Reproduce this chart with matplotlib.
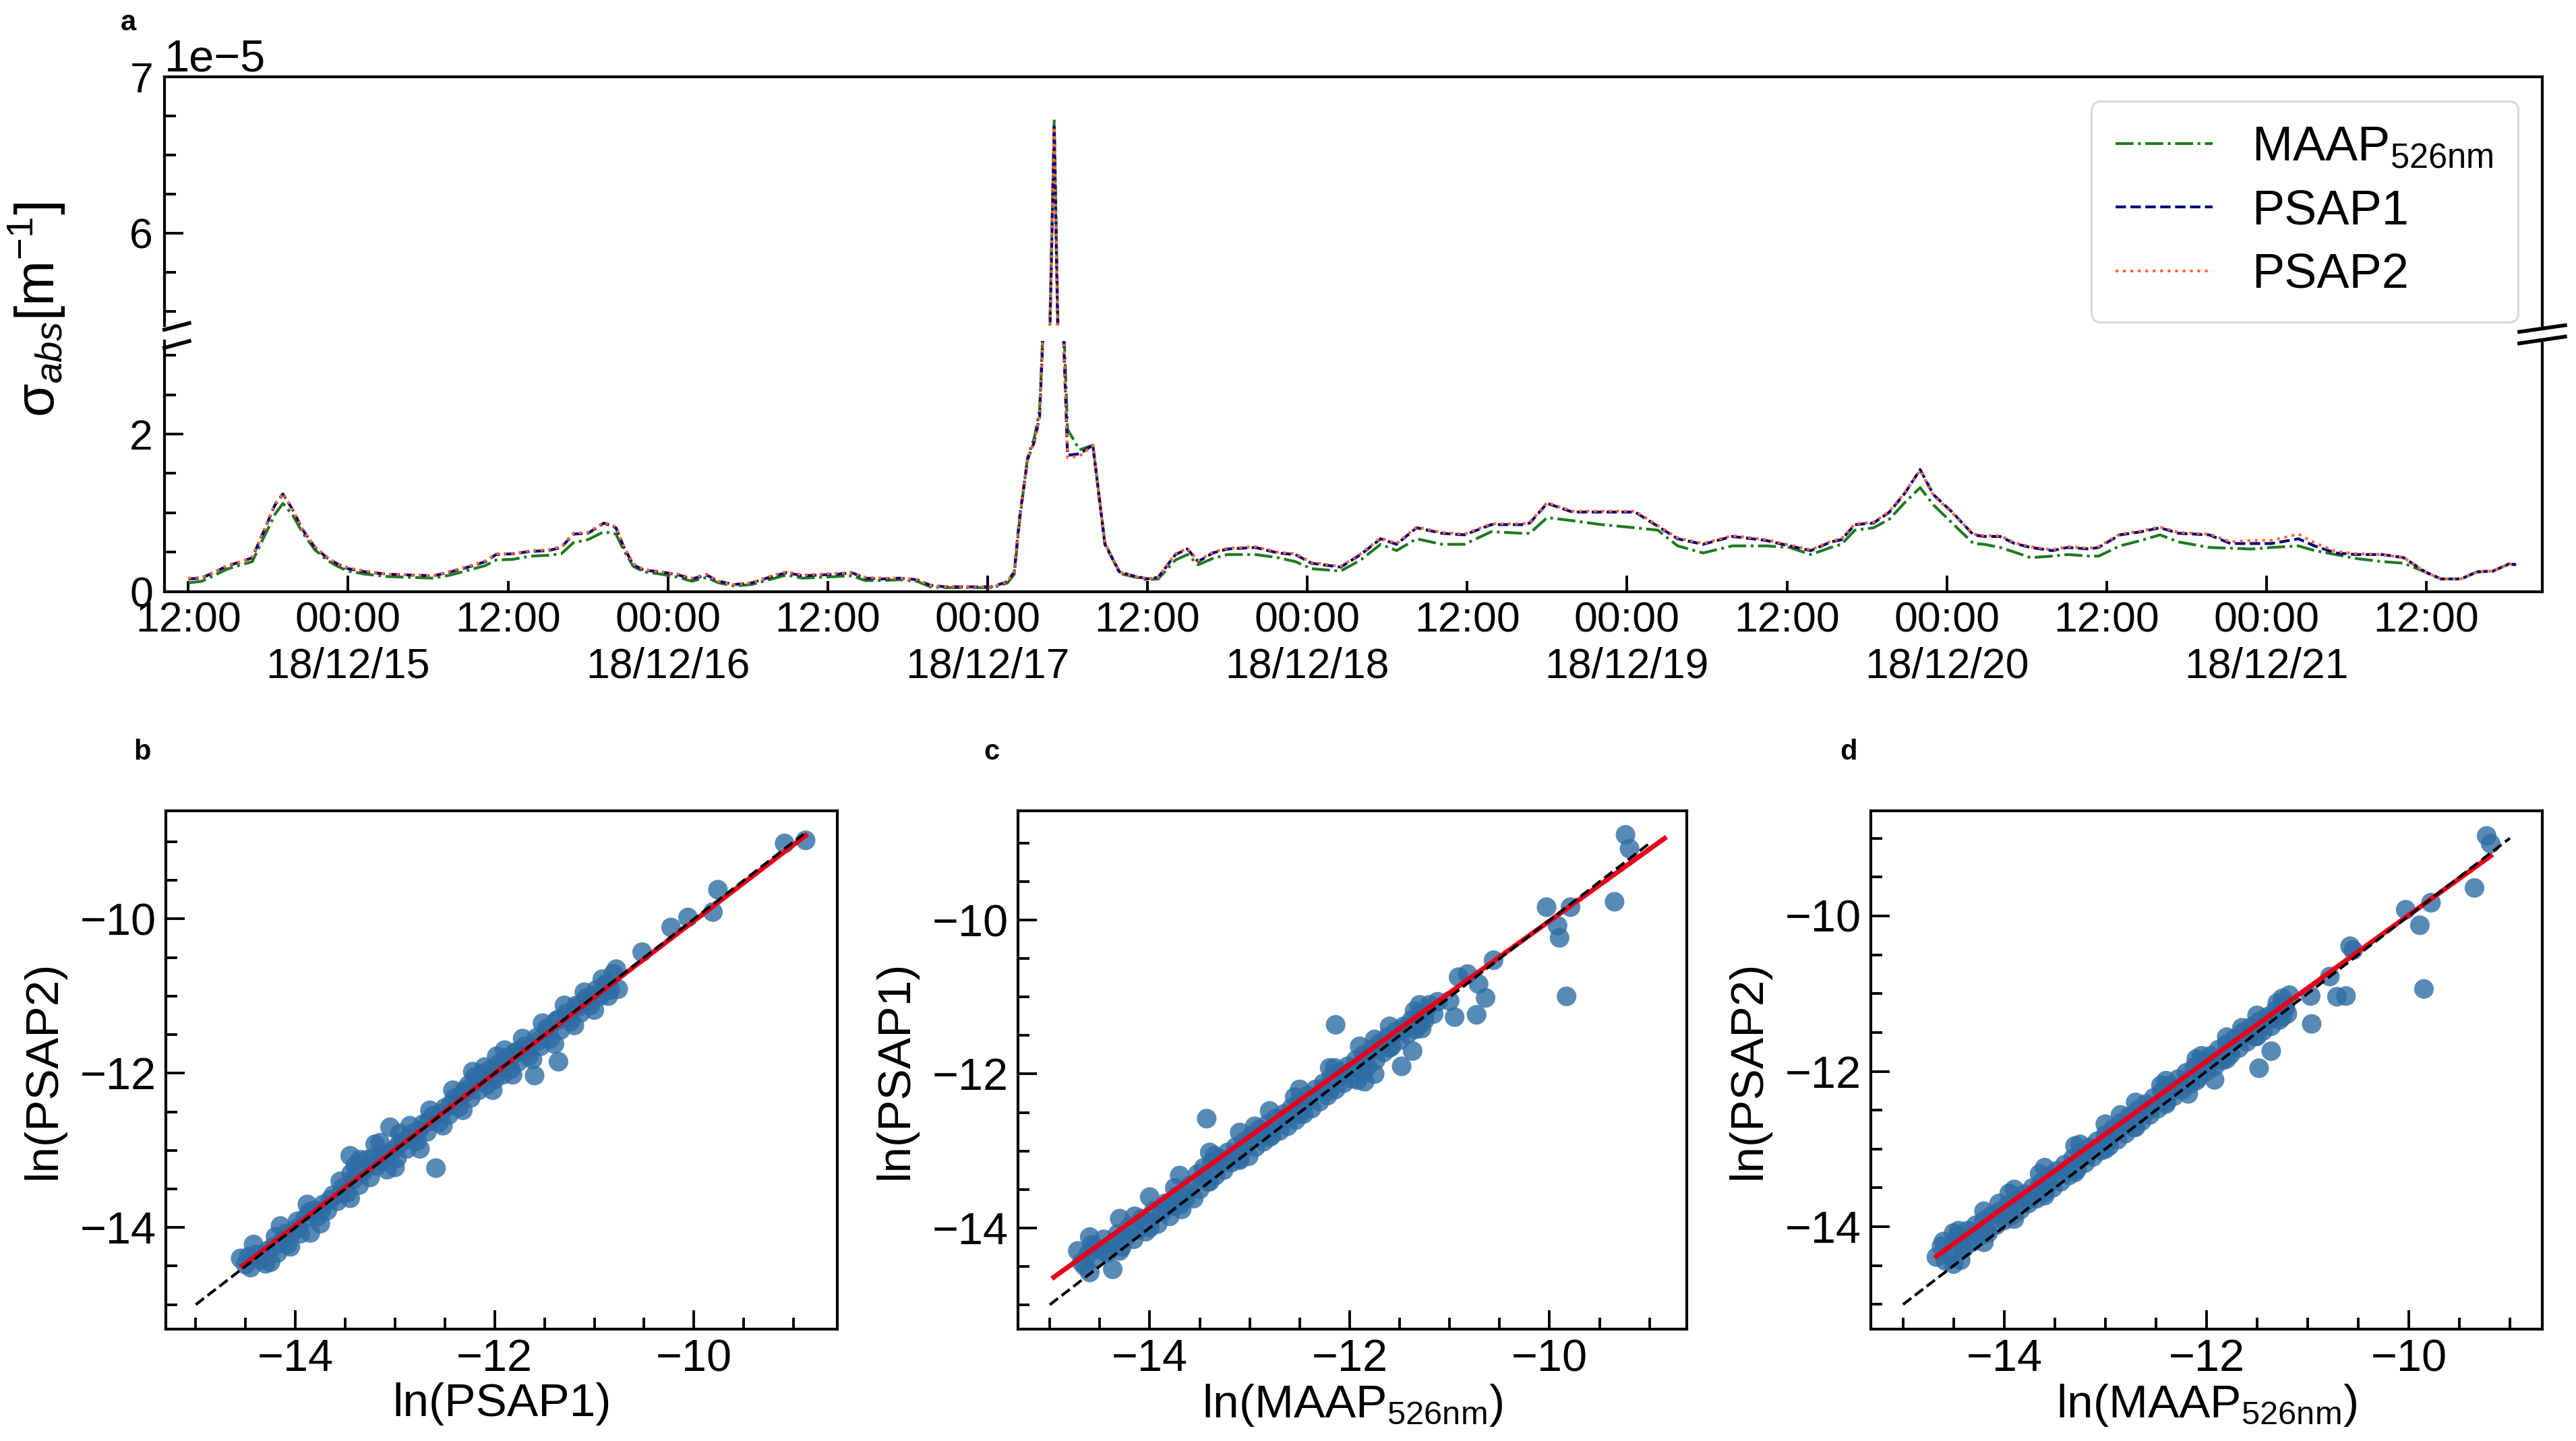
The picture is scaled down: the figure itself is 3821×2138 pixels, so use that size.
import numpy as np
import matplotlib

matplotlib.use("Agg")
import matplotlib.pyplot as plt
import matplotlib.dates as mdates
from matplotlib.lines import Line2D
from matplotlib.ticker import MultipleLocator

# ---------------------------------------------------------------------------
# panel a: absorption coefficient, units of 1e-5 m^-1
# time given as hours after 2018-12-14 12:00
T0 = np.datetime64("2018-12-14T12:00")
hours = [
    0, 1, 2, 3, 4, 4.8, 5.7, 6.5, 7.1, 7.8,
    8.6, 9.5, 10.4, 11.2, 12, 13.3, 15, 16.7, 18.4, 19.7,
    21, 22.3, 23.1, 24.4, 25.7, 27, 28, 28.9, 30, 31.2,
    32.1, 32.7, 33.4, 34.2, 35.5, 36.8, 37.8, 38.9, 39.8, 41,
    42.3, 43.6, 44.9, 46.1, 47.4, 48.7, 49.8, 50.8, 52.1, 53.4,
    54.7, 55.7, 56.8, 58.1, 59.4, 60.4, 61.5, 62.0, 62.4, 63.0,
    63.5, 63.9, 65.0, 66.0, 66.9, 67.9, 68.8, 69.9, 70.9, 72.0,
    72.8, 74.1, 75.0, 75.8, 76.9, 78.0, 80.1, 81.8, 83.1, 84.3,
    86.5, 88.0, 89.5, 90.7, 92.2, 94.1, 95.8, 97.8, 100.1, 100.7,
    102.0, 103.9, 106.1, 108.6, 110.3, 111.8, 113.7, 115.9, 118.4, 120.2,
    121.8, 123.3, 124.1, 125.1, 126.5, 127.7, 128.9, 130.0, 131.0, 132.4,
    134.0, 134.8, 136.0, 137.1, 138.3, 139.9, 141.1, 142.7, 143.4, 145.0,
    146.6, 148.0, 149.4, 151.7, 153.3, 154.9, 156.4, 158.4, 159.6, 161.2,
    162.7, 164.7, 166.3, 167.9, 169.1, 170.6, 171.8, 173.0, 174.2, 174.8,
]
psap1 = [
    0.16, 0.17, 0.25, 0.33, 0.38, 0.43, 0.78, 1.10, 1.24, 1.05,
    0.78, 0.56, 0.43, 0.35, 0.29, 0.25, 0.22, 0.21, 0.20, 0.25,
    0.31, 0.38, 0.47, 0.48, 0.51, 0.52, 0.56, 0.73, 0.74, 0.87,
    0.81, 0.56, 0.34, 0.27, 0.25, 0.21, 0.16, 0.21, 0.13, 0.09,
    0.11, 0.18, 0.24, 0.20, 0.21, 0.22, 0.24, 0.17, 0.16, 0.17,
    0.15, 0.08, 0.06, 0.06, 0.06, 0.06, 0.13, 0.25, 0.94, 1.68,
    1.90, 2.22, 6.68, 1.73, 1.75, 1.86, 0.60, 0.25, 0.20, 0.16,
    0.18, 0.47, 0.54, 0.38, 0.49, 0.54, 0.56, 0.49, 0.47, 0.36,
    0.31, 0.47, 0.67, 0.60, 0.81, 0.74, 0.72, 0.85, 0.85, 0.87,
    1.12, 1.01, 1.01, 1.01, 0.83, 0.67, 0.60, 0.70, 0.65, 0.58,
    0.52, 0.63, 0.66, 0.85, 0.87, 1.01, 1.26, 1.55, 1.23, 1.01,
    0.72, 0.70, 0.70, 0.61, 0.56, 0.52, 0.56, 0.54, 0.56, 0.72,
    0.76, 0.81, 0.74, 0.72, 0.61, 0.61, 0.61, 0.67, 0.58, 0.49,
    0.47, 0.47, 0.43, 0.25, 0.16, 0.16, 0.25, 0.26, 0.35, 0.34,
]
psap2 = [
    0.17, 0.18, 0.25, 0.34, 0.38, 0.44, 0.79, 1.11, 1.25, 1.05,
    0.78, 0.57, 0.44, 0.35, 0.30, 0.26, 0.22, 0.21, 0.20, 0.26,
    0.32, 0.39, 0.48, 0.48, 0.52, 0.53, 0.57, 0.74, 0.75, 0.88,
    0.82, 0.57, 0.35, 0.28, 0.25, 0.22, 0.17, 0.22, 0.13, 0.09,
    0.11, 0.19, 0.25, 0.21, 0.22, 0.23, 0.24, 0.18, 0.17, 0.17,
    0.15, 0.08, 0.06, 0.06, 0.06, 0.06, 0.13, 0.26, 0.95, 1.68,
    1.90, 2.22, 6.68, 1.70, 1.72, 1.86, 0.62, 0.25, 0.20, 0.16,
    0.18, 0.48, 0.55, 0.39, 0.50, 0.55, 0.57, 0.50, 0.48, 0.37,
    0.32, 0.48, 0.68, 0.61, 0.82, 0.75, 0.73, 0.86, 0.86, 0.88,
    1.13, 1.02, 1.02, 1.02, 0.84, 0.68, 0.61, 0.71, 0.66, 0.59,
    0.53, 0.64, 0.67, 0.86, 0.88, 1.02, 1.27, 1.54, 1.22, 1.00,
    0.73, 0.71, 0.71, 0.62, 0.57, 0.53, 0.57, 0.55, 0.57, 0.73,
    0.77, 0.82, 0.75, 0.73, 0.63, 0.65, 0.65, 0.73, 0.62, 0.51,
    0.48, 0.47, 0.43, 0.25, 0.16, 0.16, 0.25, 0.26, 0.35, 0.34,
]
maap = [
    0.11, 0.13, 0.21, 0.29, 0.34, 0.38, 0.70, 0.98, 1.12, 0.98,
    0.74, 0.53, 0.40, 0.32, 0.26, 0.22, 0.19, 0.18, 0.17, 0.21,
    0.27, 0.33, 0.40, 0.41, 0.45, 0.46, 0.48, 0.62, 0.66, 0.76,
    0.73, 0.52, 0.32, 0.25, 0.22, 0.18, 0.13, 0.18, 0.11, 0.07,
    0.09, 0.15, 0.21, 0.17, 0.18, 0.19, 0.20, 0.14, 0.14, 0.15,
    0.13, 0.06, 0.05, 0.05, 0.05, 0.05, 0.11, 0.22, 0.90, 1.70,
    1.95, 2.30, 6.73, 2.06, 1.80, 1.86, 0.62, 0.23, 0.19, 0.15,
    0.16, 0.40, 0.47, 0.34, 0.42, 0.47, 0.47, 0.43, 0.38, 0.29,
    0.26, 0.40, 0.60, 0.52, 0.67, 0.60, 0.60, 0.76, 0.74, 0.74,
    0.94, 0.90, 0.85, 0.81, 0.78, 0.58, 0.49, 0.58, 0.58, 0.56,
    0.47, 0.56, 0.60, 0.78, 0.81, 0.92, 1.14, 1.32, 1.10, 0.87,
    0.61, 0.60, 0.56, 0.50, 0.43, 0.45, 0.47, 0.45, 0.45, 0.58,
    0.65, 0.72, 0.63, 0.56, 0.55, 0.54, 0.56, 0.58, 0.52, 0.47,
    0.42, 0.38, 0.36, 0.25, 0.16, 0.16, 0.25, 0.26, 0.35, 0.34,
]

# ---------------------------------------------------------------------------
# panels b-d: ln-ln scatter, (x, y) pairs
b_pts = [
    (-14.55, -14.40), (-14.50, -14.48), (-14.45, -14.52), (-14.40, -14.35),
    (-14.35, -14.42), (-14.30, -14.47), (-14.28, -14.30), (-14.22, -14.25),
    (-14.18, -14.33), (-14.12, -14.15), (-14.08, -14.22), (-14.02, -14.05),
    (-13.98, -13.92), (-13.95, -14.08), (-13.90, -13.88), (-13.85, -14.07),
    (-13.82, -13.78), (-13.78, -13.86), (-13.72, -13.70), (-13.68, -13.78),
    (-13.62, -13.58), (-13.58, -13.66), (-13.52, -13.48), (-13.48, -13.55),
    (-13.45, -13.07), (-13.42, -13.38), (-13.40, -13.20), (-13.36, -13.45),
    (-13.32, -13.28), (-13.28, -13.12), (-13.25, -13.35), (-13.20, -12.92),
    (-13.18, -13.20), (-13.12, -13.05), (-13.08, -13.25), (-13.05, -12.70),
    (-13.02, -13.00), (-12.98, -13.10), (-12.92, -12.88), (-12.88, -12.98),
    (-12.82, -12.78), (-12.78, -12.88), (-12.72, -12.66), (-12.68, -12.76),
    (-12.62, -12.55), (-12.59, -13.23), (-12.56, -12.64), (-12.50, -12.45),
    (-12.46, -12.54), (-12.40, -12.32), (-12.36, -12.44), (-12.30, -12.22),
    (-12.26, -12.15), (-12.24, -12.32), (-12.20, -12.05), (-12.16, -12.22),
    (-12.12, -12.00), (-12.08, -12.15), (-12.04, -11.95), (-12.00, -12.08),
    (-11.96, -11.88), (-11.92, -12.02), (-11.88, -11.80), (-11.84, -11.95),
    (-11.80, -11.74), (-11.76, -11.85), (-11.70, -11.65), (-11.66, -11.78),
    (-11.60, -12.03), (-11.58, -11.54), (-11.54, -11.65), (-11.48, -11.42),
    (-11.44, -11.55), (-11.36, -11.85), (-11.38, -11.32), (-11.34, -11.44),
    (-11.28, -11.22), (-11.24, -11.33), (-11.18, -11.12), (-11.14, -11.22),
    (-11.08, -11.02), (-11.04, -11.12), (-10.98, -10.92), (-10.94, -11.00),
    (-10.88, -10.84), (-10.84, -10.92), (-10.81, -10.71), (-10.76, -10.91),
    (-10.52, -10.43), (-10.23, -10.11), (-10.06, -9.98), (-9.81, -9.91),
    (-9.76, -9.62), (-9.09, -9.02), (-8.88, -8.98),
    (-14.42, -14.22), (-14.25, -14.45), (-14.15, -13.98), (-14.05, -14.25),
    (-13.88, -13.70), (-13.75, -13.95), (-13.55, -13.40), (-13.45, -13.62),
    (-13.35, -13.12), (-13.15, -12.90), (-13.00, -13.22), (-12.95, -12.78),
    (-12.85, -12.68), (-12.75, -12.98), (-12.65, -12.48), (-12.52, -12.68),
    (-12.42, -12.22), (-12.32, -12.48), (-12.22, -11.98), (-12.10, -11.92),
    (-12.02, -12.22), (-11.98, -11.78), (-11.90, -11.70), (-11.82, -12.02),
    (-11.72, -11.55), (-11.62, -11.82), (-11.52, -11.35), (-11.40, -11.62),
    (-11.30, -11.12), (-11.20, -11.38), (-11.10, -10.95), (-11.00, -11.18),
    (-10.92, -10.78), (-10.86, -11.00), (-10.78, -10.65),
    (-14.47, -14.38), (-14.33, -14.36), (-14.20, -14.12), (-14.10, -14.08),
    (-13.97, -14.00), (-13.86, -13.80), (-13.74, -13.78), (-13.65, -13.64),
    (-13.54, -13.56), (-13.44, -13.30), (-13.38, -13.28), (-13.30, -13.22),
    (-13.22, -13.10), (-13.14, -13.15), (-13.06, -13.05), (-12.96, -12.92),
    (-12.86, -12.84), (-12.76, -12.74), (-12.66, -12.62), (-12.54, -12.52),
    (-12.44, -12.40), (-12.34, -12.30), (-12.28, -12.24), (-12.18, -12.12),
    (-12.06, -12.04), (-11.94, -11.92), (-11.86, -11.86), (-11.78, -11.72),
    (-11.68, -11.70), (-11.56, -11.58), (-11.46, -11.46), (-11.36, -11.30),
    (-11.26, -11.28), (-11.16, -11.14), (-11.06, -11.06), (-10.96, -10.97),
    (-10.90, -10.86),
]
c_pts = [
    (-14.72, -14.30), (-14.68, -14.45), (-14.62, -14.35), (-14.58, -14.22),
    (-14.54, -14.40), (-14.50, -14.28), (-14.46, -14.15), (-14.42, -14.32),
    (-14.37, -14.54), (-14.36, -14.20), (-14.32, -14.08), (-14.28, -14.25),
    (-14.24, -14.12), (-14.20, -13.98), (-14.16, -14.15), (-14.12, -14.02),
    (-14.08, -13.88), (-14.04, -14.05), (-14.00, -13.92), (-13.96, -13.78),
    (-13.92, -13.95), (-13.88, -13.80), (-13.84, -13.68), (-13.80, -13.85),
    (-13.76, -13.72), (-13.72, -13.58), (-13.68, -13.76), (-13.64, -13.62),
    (-13.60, -13.45), (-13.56, -13.62), (-13.52, -13.30), (-13.50, -13.50),
    (-13.46, -13.22), (-13.43, -12.58), (-13.42, -13.40), (-13.38, -13.15),
    (-13.34, -13.32), (-13.30, -13.10), (-13.26, -13.25), (-13.22, -13.02),
    (-13.18, -13.15), (-13.14, -12.95), (-13.10, -13.10), (-13.06, -12.88),
    (-13.01, -13.07), (-12.98, -12.80), (-12.94, -12.95), (-12.90, -12.72),
    (-12.86, -12.88), (-12.82, -12.65), (-12.78, -12.80), (-12.74, -12.58),
    (-12.70, -12.74), (-12.66, -12.52), (-12.62, -12.68), (-12.58, -12.44),
    (-12.54, -12.60), (-12.50, -12.36), (-12.46, -12.52), (-12.42, -12.28),
    (-12.38, -12.45), (-12.34, -12.20), (-12.30, -12.36), (-12.26, -12.12),
    (-12.22, -12.28), (-12.18, -12.04), (-12.14, -11.36), (-12.14, -12.20),
    (-12.10, -11.98), (-12.06, -12.12), (-12.02, -11.90), (-11.98, -12.06),
    (-11.94, -11.82), (-11.92, -12.08), (-11.87, -11.99), (-11.86, -11.75),
    (-11.82, -11.90), (-11.78, -11.68), (-11.74, -11.82), (-11.70, -11.60),
    (-11.66, -11.72), (-11.62, -11.52), (-11.58, -11.64), (-11.54, -11.45),
    (-11.50, -11.56), (-11.48, -11.90), (-11.46, -11.38), (-11.42, -11.48),
    (-11.37, -11.70), (-11.38, -11.30), (-11.34, -11.42), (-11.30, -11.22),
    (-11.28, -11.41), (-11.25, -11.30), (-11.20, -11.10), (-11.16, -11.22),
    (-11.12, -11.06), (-11.00, -11.05), (-10.95, -11.26), (-10.91, -10.74),
    (-10.82, -10.70), (-10.73, -11.23), (-10.71, -10.83), (-10.64, -11.01),
    (-10.56, -10.52), (-10.03, -9.83), (-9.92, -10.07), (-9.90, -10.23),
    (-9.83, -10.99), (-9.79, -9.83), (-9.35, -9.76), (-9.24, -8.89),
    (-9.20, -9.07),
    (-14.60, -14.12), (-14.60, -14.58), (-14.30, -13.88), (-14.30, -14.30),
    (-14.00, -13.60), (-14.00, -14.00), (-13.70, -13.32), (-13.70, -13.70),
    (-13.40, -13.02), (-13.40, -13.40), (-13.10, -12.76), (-13.10, -13.12),
    (-12.80, -12.48), (-12.80, -12.82), (-12.50, -12.20), (-12.50, -12.52),
    (-12.20, -11.92), (-12.20, -12.22), (-11.90, -11.64), (-11.90, -11.94),
    (-11.60, -11.38), (-11.60, -11.66), (-11.30, -11.10), (-11.30, -11.36),
    (-11.85, -12.10), (-11.75, -12.00),
    (-14.65, -14.50), (-14.45, -14.31), (-14.25, -14.11), (-14.05, -13.92),
    (-13.85, -13.73), (-13.65, -13.53), (-13.45, -13.34), (-13.25, -13.15),
    (-13.05, -12.95), (-12.85, -12.76), (-12.65, -12.57), (-12.45, -12.37),
    (-12.25, -12.18), (-12.05, -11.99), (-11.85, -11.79), (-11.65, -11.60),
    (-11.45, -11.41), (-11.25, -11.21),
    (-14.55, -14.25), (-14.15, -13.85), (-13.75, -13.48), (-13.35, -13.06),
    (-12.95, -12.68), (-12.55, -12.30), (-12.15, -11.92), (-11.75, -11.55),
    (-11.35, -11.18),
]
d_pts = [
    (-14.67, -14.39), (-14.62, -14.25), (-14.60, -14.19), (-14.55, -14.35),
    (-14.50, -14.22), (-14.46, -14.12), (-14.43, -14.43), (-14.40, -14.28),
    (-14.36, -14.05), (-14.32, -14.20), (-14.28, -13.98), (-14.24, -14.12),
    (-14.20, -13.92), (-14.16, -14.08), (-14.12, -13.85), (-14.08, -13.98),
    (-14.04, -13.80), (-14.00, -13.92), (-13.95, -13.57), (-13.96, -13.72),
    (-13.92, -13.85), (-13.88, -13.66), (-13.84, -13.78), (-13.80, -13.58),
    (-13.76, -13.70), (-13.72, -13.50), (-13.68, -13.64), (-13.64, -13.44),
    (-13.60, -13.56), (-13.56, -13.36), (-13.52, -13.50), (-13.48, -13.28),
    (-13.44, -13.42), (-13.40, -13.20), (-13.36, -13.34), (-13.32, -13.12),
    (-13.28, -13.26), (-13.24, -13.05), (-13.20, -13.18), (-13.16, -12.98),
    (-13.12, -13.10), (-13.08, -12.90), (-13.04, -13.02), (-13.00, -12.82),
    (-12.96, -12.96), (-12.92, -12.74), (-12.88, -12.88), (-12.84, -12.66),
    (-12.80, -12.80), (-12.76, -12.58), (-12.72, -12.72), (-12.68, -12.50),
    (-12.64, -12.64), (-12.60, -12.42), (-12.56, -12.56), (-12.52, -12.34),
    (-12.48, -12.48), (-12.44, -12.26), (-12.40, -12.40), (-12.36, -12.18),
    (-12.32, -12.32), (-12.28, -12.10), (-12.24, -12.24), (-12.20, -12.02),
    (-12.18, -12.29), (-12.16, -12.16), (-12.12, -11.95), (-12.08, -12.08),
    (-12.04, -11.88), (-12.00, -12.00), (-11.96, -11.80), (-11.92, -12.11),
    (-11.92, -11.94), (-11.88, -11.72), (-11.84, -11.86), (-11.80, -11.65),
    (-11.76, -11.78), (-11.72, -11.58), (-11.68, -11.70), (-11.64, -11.50),
    (-11.60, -11.62), (-11.56, -11.43), (-11.52, -11.55), (-11.48, -11.96),
    (-11.48, -11.36), (-11.44, -11.48), (-11.40, -11.30), (-11.36, -11.74),
    (-11.36, -11.42), (-11.32, -11.22), (-11.28, -11.34), (-11.24, -11.15),
    (-11.20, -11.26), (-11.18, -11.02), (-10.97, -11.03), (-10.96, -11.39),
    (-10.78, -10.78), (-10.71, -11.04), (-10.62, -11.03), (-10.58, -10.39),
    (-10.55, -10.44), (-10.03, -9.92), (-9.89, -10.12), (-9.78, -9.83),
    (-9.85, -10.94), (-9.35, -9.64), (-9.23, -8.97), (-9.19, -9.07),
    (-14.50, -14.08), (-14.50, -14.48), (-14.20, -13.80), (-14.20, -14.20),
    (-13.90, -13.52), (-13.90, -13.90), (-13.60, -13.24), (-13.60, -13.60),
    (-13.30, -12.96), (-13.30, -13.30), (-13.00, -12.68), (-13.00, -13.00),
    (-12.70, -12.40), (-12.70, -12.72), (-12.40, -12.12), (-12.40, -12.42),
    (-12.10, -11.84), (-12.10, -12.12), (-11.80, -11.56), (-11.80, -11.84),
    (-11.50, -11.28), (-11.50, -11.55), (-11.25, -11.06), (-11.25, -11.30),
    (-14.58, -14.44), (-14.38, -14.24), (-14.18, -14.05), (-13.98, -13.86),
    (-13.78, -13.66), (-13.58, -13.47), (-13.38, -13.27), (-13.18, -13.08),
    (-12.98, -12.89), (-12.78, -12.69), (-12.58, -12.50), (-12.38, -12.30),
    (-12.18, -12.11), (-11.98, -11.92), (-11.78, -11.72), (-11.58, -11.53),
    (-11.38, -11.33), (-11.22, -11.18),
    (-14.45, -14.05), (-14.05, -13.70), (-13.65, -13.32), (-13.25, -12.94),
    (-12.85, -12.56), (-12.45, -12.18), (-12.05, -11.80), (-11.65, -11.44),
    (-11.30, -11.12),
]
# linear fits: slope, intercept, x start, x end
fit_b = (0.988, -0.145, -14.53, -8.88)
fit_c = (0.934, -0.670, -14.96, -8.85)
fit_d = (0.940, -0.590, -14.67, -9.19)
one_to_one = {"b": (-15.0, -8.9), "c": (-15.0, -9.0), "d": (-15.0, -9.0)}

# ---------------------------------------------------------------------------
FONT = "Liberation Sans"
plt.rcParams["font.family"] = [FONT, "DejaVu Sans"]
plt.rcParams["mathtext.fontset"] = "custom"
plt.rcParams["mathtext.rm"] = FONT
plt.rcParams["mathtext.it"] = FONT + ":italic"
plt.rcParams["mathtext.bf"] = FONT + ":bold"

FS_TICK_A = 22.5
FS_TICK = 24
FS_LABEL = 25
FS_LEG = 26
LW_AX = 1.5

t = T0 + (np.array(hours) * 60).round().astype(int).astype("timedelta64[m]")
scale = 1e-5

fig = plt.figure(figsize=(3821 / 200, 2138 / 200), dpi=200)
ax_up = fig.add_axes([0.0638, 0.7741, 0.9231, 0.1727])
ax_lo = fig.add_axes([0.0638, 0.5895, 0.9231, 0.1737], sharex=ax_up)

for ax in (ax_up, ax_lo):
    ax.plot(t, np.array(maap) * scale, "-.", color="#1f7a1f", lw=1.5,
            label="MAAP$_{\\rm 526nm}$")
    ax.plot(t, np.array(psap1) * scale, "--", color="#000080", lw=1.5,
            label="PSAP1")
    ax.plot(t, np.array(psap2) * scale, ":", color="#ff6633", lw=1.5,
            label="PSAP2")
    for s in ax.spines.values():
        s.set_linewidth(LW_AX)
    ax.tick_params(which="both", direction="in", labelsize=FS_TICK_A,
                   width=1.4, top=False, right=False)
    ax.tick_params(axis="y", which="major", length=10, pad=6)
    ax.tick_params(axis="y", which="minor", length=6)

ax_up.set_ylim(5.41e-5, 7.0e-5)
ax_lo.set_ylim(0, 3.18e-5)
ax_up.yaxis.set_major_locator(MultipleLocator(1e-5))
ax_up.yaxis.set_minor_locator(MultipleLocator(0.25e-5))
ax_lo.yaxis.set_major_locator(MultipleLocator(2e-5))
ax_lo.yaxis.set_minor_locator(MultipleLocator(0.5e-5))
ax_up.spines["bottom"].set_visible(False)
ax_lo.spines["top"].set_visible(False)
ax_up.tick_params(axis="x", which="both", bottom=False, labelbottom=False)
ax_up.yaxis.get_offset_text().set_fontsize(24)
ax_lo.yaxis.get_offset_text().set_visible(False)

ax_lo.xaxis.set_major_locator(mdates.DayLocator())
ax_lo.xaxis.set_major_formatter(mdates.DateFormatter("%H:%M\n%y/%m/%d"))
ax_lo.xaxis.set_minor_locator(mdates.HourLocator(byhour=[12]))
ax_lo.xaxis.set_minor_formatter(mdates.DateFormatter("%H:%M"))
ax_lo.tick_params(axis="x", which="major", length=8.5, pad=5)
ax_lo.tick_params(axis="x", which="minor", length=5.8, pad=5,
                  labelsize=FS_TICK_A)
ax_lo.set_xlim(T0 - np.timedelta64(108, "m"), T0 + np.timedelta64(10602, "m"))

ax_up.legend(loc="upper right", fontsize=FS_LEG, handlelength=2.0,
             handletextpad=0.8, labelspacing=0.38, borderpad=0.5)

fig.text(0.014, 0.785, "σ$_{abs}$[m$^{-1}$]", rotation=90, ha="center",
         va="center", fontsize=29)

# break marks
for xs, ys in [((0.0638, 0.0735), (0.7712, 0.7758)),
               ((0.0638, 0.0735), (0.7586, 0.7633)),
               ((0.978, 0.9958), (0.7697, 0.7743)),
               ((0.978, 0.9958), (0.7617, 0.7664))]:
    fig.add_artist(Line2D(xs, ys, transform=fig.transFigure, color="k",
                          lw=2.0))

# scatter panels
panels = [
    ("b", b_pts, fit_b, [0.0644, 0.0775, 0.2607, 0.3597],
     "ln(PSAP1)", "ln(PSAP2)", (-15.30, -8.56), (-15.32, -8.60)),
    ("c", c_pts, fit_c, [0.3951, 0.0775, 0.2596, 0.3597],
     "ln(MAAP$_{\\rm 526nm}$)", "ln(PSAP1)", (-15.32, -8.63), (-15.32, -8.58)),
    ("d", d_pts, fit_d, [0.7262, 0.0775, 0.2607, 0.3597],
     "ln(MAAP$_{\\rm 526nm}$)", "ln(PSAP2)", (-15.32, -8.68), (-15.32, -8.65)),
]
for key, pts, fit, rect, xlab, ylab, xlim, ylim in panels:
    ax = fig.add_axes(rect)
    pts = np.array(pts)
    ax.scatter(pts[:, 0], pts[:, 1], s=110, color="#2e6da4", alpha=0.8,
               edgecolors="none", zorder=2)
    slope, icpt, x0, x1 = fit
    fx = np.array([x0, x1])
    ax.plot(fx, slope * fx + icpt, color="#e8001c", lw=2.6, zorder=3)
    lo, hi = one_to_one[key]
    ax.plot([lo, hi], [lo, hi], "--", color="k", lw=1.5, zorder=4)
    ax.set_xlim(*xlim)
    ax.set_ylim(*ylim)
    for axis in (ax.xaxis, ax.yaxis):
        axis.set_major_locator(MultipleLocator(2))
        axis.set_minor_locator(MultipleLocator(0.5))
    for s in ax.spines.values():
        s.set_linewidth(LW_AX)
    ax.tick_params(which="both", direction="in", labelsize=FS_TICK,
                   width=1.4, top=False, right=False, pad=5)
    ax.tick_params(which="major", length=10)
    ax.tick_params(which="minor", length=6)
    ax.set_xlabel(xlab, fontsize=FS_LABEL, labelpad=1)
    ax.set_ylabel(ylab, fontsize=FS_LABEL, labelpad=8)

for letter, x, y in [("a", 0.0497, 0.984), ("b", 0.0553, 0.478),
                     ("c", 0.385, 0.478), ("d", 0.7175, 0.478)]:
    fig.text(x, y, letter, fontsize=15, fontweight="bold",
             ha="center", va="center")

fig.savefig("out.png", dpi=200)
